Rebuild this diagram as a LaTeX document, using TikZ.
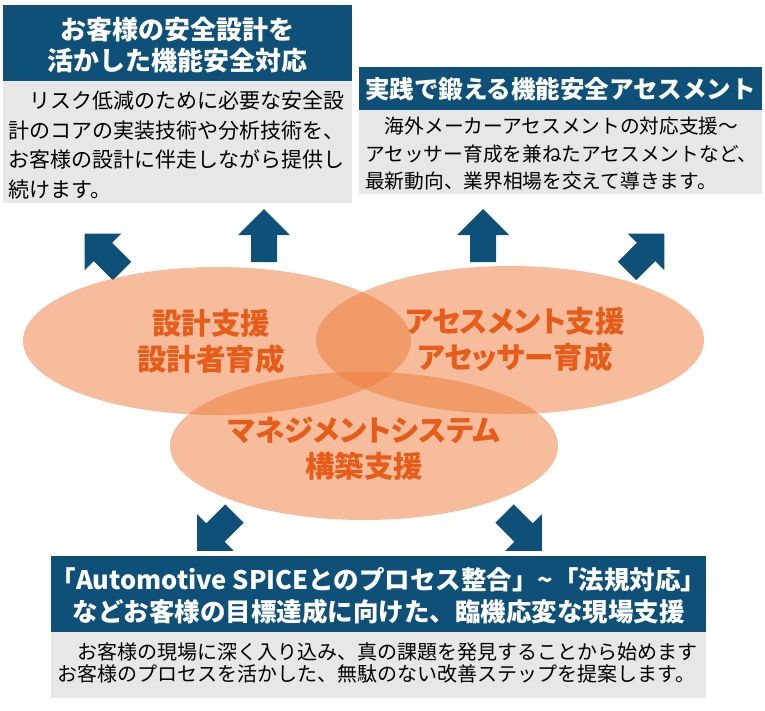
\documentclass[tikz,border=0pt]{standalone}
\usepackage{fontspec}
\setmainfont{Noto Sans CJK JP}
\newfontfamily\jpprop{Noto Sans CJK JP}[RawFeature=+palt]
\usetikzlibrary{shapes.geometric}
\definecolor{navy}{RGB}{14,80,120}
\definecolor{panel}{RGB}{231,231,231}
\definecolor{peach}{RGB}{237,122,56}
\definecolor{rust}{RGB}{230,92,24}
\tikzset{
  headbar/.style={fill=navy, inner sep=0pt, outer sep=0pt, anchor=north west},
  panelbox/.style={fill=panel, inner sep=0pt, outer sep=0pt, anchor=north west},
  headtext/.style={text=white, align=center, inner sep=0pt},
  bodytext/.style={text=black, align=left, anchor=west, inner sep=0pt},
  blob/.style={ellipse, fill=peach, fill opacity=0.5, inner sep=0pt,
    minimum width=388pt, minimum height=148pt},
  blobtext/.style={text=rust, align=center, inner sep=0pt,
    font=\jpprop\bfseries\fontsize{29.5}{36}\selectfont}
}
% block arrow: base x, base y, angle
\newcommand\blockarrow[3]{%
  \fill[navy, shift={(#1,#2)}, rotate=#3]
    (-13,0) -- (13,0) -- (13,-27) -- (26,-27) -- (0,-53) -- (-26,-27) -- (-13,-27) -- cycle;}
\begin{document}
\begin{tikzpicture}[x=1pt,y=-1pt]
\useasboundingbox (0,0) rectangle (765,710);
%
\node[headbar, minimum width=349pt, minimum height=76pt] (designhead) at (3,5) {};
\node[panelbox, minimum width=349pt, minimum height=122pt] (designpanel) at (3,81) {};
\node[headtext, font=\bfseries\fontsize{26}{31}\selectfont] (designtitle) at (177.5,45)
  {お客様の安全設計を\\活かした機能安全対応};
\node[bodytext, font=\fontsize{21}{29.5}\selectfont] (designtxt) at (8,145)
  {　リスク低減のために必要な安全設\\計のコアの実装技術や分析技術を、\\お客様の設計に伴走しながら提供し\\続けます。};
%
\node[headbar, minimum width=403pt, minimum height=43pt] (assesshead) at (359,67) {};
\node[panelbox, minimum width=403pt, minimum height=84pt] (assesspanel) at (359,110) {};
\node[headtext, font=\bfseries\fontsize{24.5}{30}\selectfont] (assesstitle) at (560.5,89)
  {実践で鍛える機能安全アセスメント};
\node[bodytext, font=\fontsize{19.7}{27.5}\selectfont] (assesstxt) at (365,154)
  {　海外メーカーアセスメントの対応支援～\\アセッサー育成を兼ねたアセスメントなど、\\最新動向、業界相場を交えて導きます。};
%
\blockarrow{122}{271}{45}
\blockarrow{264}{262}{0}
\blockarrow{483}{262}{0}
\blockarrow{627}{271}{-45}
%
\node[blob] (design) at (217,341) {};
\node[blob] (assess) at (510,340) {};
\node[blob] (mgmt) at (364,446) {};
\node[blobtext] (designlbl) at (211,342) {設計支援\\設計者育成};
\node[blobtext] (assesslbl) at (515,340) {アセスメント支援\\アセッサー育成};
\node[blobtext] (mgmtlbl) at (364,449) {マネジメントシステム\\構築支援};
%
\blockarrow{234.5}{513.5}{135}
\blockarrow{504.5}{513.5}{-135}
%
\node[headbar, minimum width=655pt, minimum height=76pt] (fieldhead) at (51,556) {};
\node[panelbox, minimum width=655pt, minimum height=66pt] (fieldpanel) at (51,632) {};
\node[headtext, font=\bfseries\fontsize{25.5}{32}\selectfont] (fieldtitle) at (378.5,596)
  {「Automotive SPICEとのプロセス整合」\textasciitilde「法規対応」\\などお客様の目標達成に向けた、臨機応変な現場支援};
\node[bodytext, font=\fontsize{20}{22.5}\selectfont] (fieldtxt) at (57,663)
  {　お客様の現場に深く入り込み、真の課題を発見することから始めます\\お客様のプロセスを活かした、無駄のない改善ステップを提案します。};
\end{tikzpicture}
\end{document}
